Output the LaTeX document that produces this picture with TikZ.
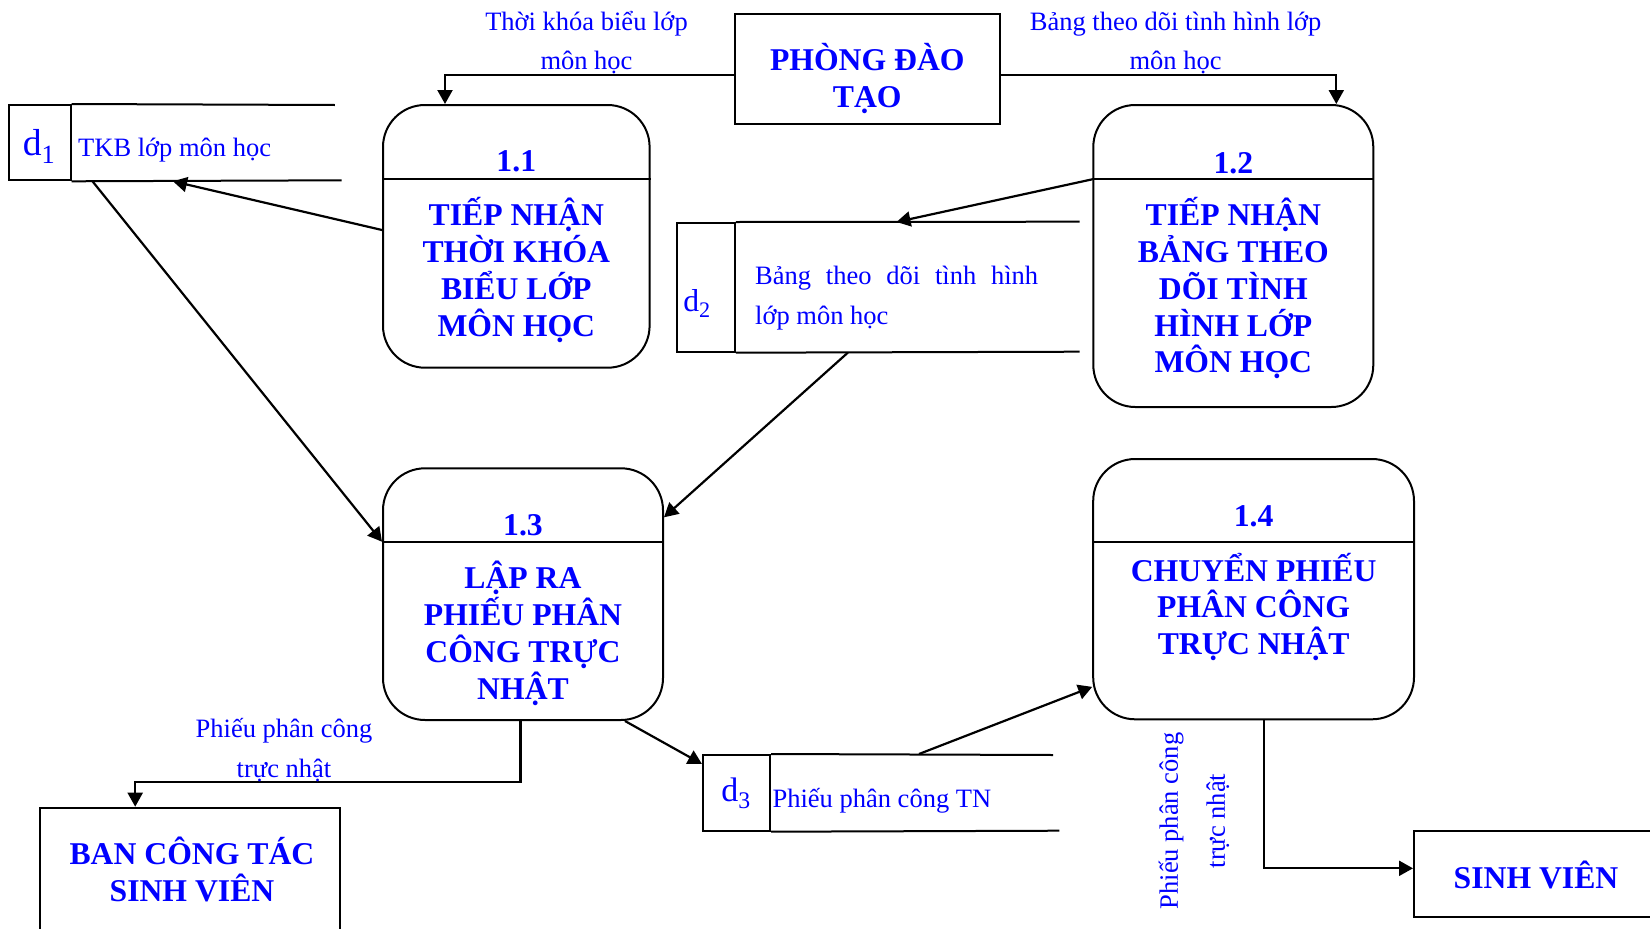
\documentclass[tikz,border=0pt]{standalone}
\usepackage{fontspec}
\setmainfont{Liberation Serif}
\usetikzlibrary{arrows.meta,calc}
\definecolor{ink}{RGB}{0,0,255}

\begin{document}
\begin{tikzpicture}[x=1pt,y=-1pt,
  procbox/.style={draw, line width=2pt, rounded corners=42pt, inner sep=0pt},
  extbox/.style={draw, line width=2pt, inner sep=0pt},
  storecell/.style={draw, line width=2pt, inner sep=0pt},
  storeline/.style={line width=2pt},
  flow/.style={line width=2.2pt, -{Triangle[length=14pt,width=15pt]}},
  title/.style={text=ink, inner sep=0pt, align=center,
    font=\bfseries\fontsize{31.7}{36.7}\selectfont},
  lbl/.style={text=ink, inner sep=0pt, font=\fontsize{26.5}{39}\selectfont},
]
\useasboundingbox (0,0) rectangle (1650,929);
\clip (0,0) rectangle (1650,929);

% external entities
\node[extbox, minimum width=265.5pt, minimum height=109.5pt] (pdt) at (867.25,68.75) {};
\node[title] (pdtname) at (867.3,78.3) {PHÒNG ĐÀO\\TẠO};
\node[extbox, minimum width=299.8pt, minimum height=137.3pt] (ban) at (190.1,876.35) {};
\node[title] (banname) at (192,869.7) {BAN CÔNG TÁC\\SINH VIÊN};
\node[extbox, minimum width=251pt, minimum height=86.6pt] (sv) at (1539.5,874) {};
\node[title] (svname) at (1536,874.7) {SINH VIÊN};

% processes
\node[procbox, minimum width=266.6pt, minimum height=262.7pt] (p11) at (516.3,236.35) {};
\draw[storeline] ([yshift=-75.3pt]p11.north west) -- ([yshift=-75.3pt]p11.north east);
\node[title] (p11num) at (516.3,161) {1.1};
\node[title] (p11txt) at (516.3,270) {TIẾP NHẬN\\THỜI KHÓA\\BIỂU LỚP\\MÔN HỌC};

\node[procbox, minimum width=280pt, minimum height=302pt] (p12) at (1233.3,256) {};
\draw[storeline] ([yshift=-75.3pt]p12.north west) -- ([yshift=-75.3pt]p12.north east);
\node[title] (p12num) at (1233.3,163.3) {1.2};
\node[title] (p12txt) at (1233.3,288.3) {TIẾP NHẬN\\BẢNG THEO\\DÕI TÌNH\\HÌNH LỚP\\MÔN HỌC};

\node[procbox, minimum width=280pt, minimum height=251.7pt] (p13) at (523,594.15) {};
\draw[storeline] ([yshift=-74.4pt]p13.north west) -- ([yshift=-74.4pt]p13.north east);
\node[title] (p13num) at (523,525) {1.3};
\node[title] (p13txt) at (523,633.3) {LẬP RA\\PHIẾU PHÂN\\CÔNG TRỰC\\NHẬT};

\node[procbox, minimum width=320.8pt, minimum height=260.3pt] (p14) at (1253.6,589.15) {};
\draw[storeline] ([yshift=-83.7pt]p14.north west) -- ([yshift=-83.7pt]p14.north east);
\node[title] (p14num) at (1253.6,516.7) {1.4};
\node[title] (p14txt) at (1253.6,606.7) {CHUYỂN PHIẾU\\PHÂN CÔNG\\TRỰC NHẬT};

% data stores
\node[storecell, minimum width=61.6pt, minimum height=75.3pt] (d1) at (39.7,142.65) {};
\coordinate (d1t) at (334.8,105);
\coordinate (d1b) at (341.5,180.3);
\draw[storeline] (d1.north east) -- (d1t);
\draw[storeline] (d1.south east) -- (d1b);
\node[text=ink, inner sep=0pt, anchor=base, font=\fontsize{37.6}{40}\selectfont] (d1id) at (39,155) {d\textsubscript{1}};
\node[lbl, anchor=base west] (d1txt) at (78,156) {TKB lớp môn học};

\node[storecell, minimum width=58pt, minimum height=128.7pt] (d2) at (705.8,287.35) {};
\coordinate (d2t) at (1079.5,221.7);
\coordinate (d2b) at (1079.5,351.7);
\draw[storeline] (d2.north east) -- (d2t);
\draw[storeline] (d2.south east) -- (d2b);
\node[text=ink, inner sep=0pt, anchor=base, font=\fontsize{31.7}{34}\selectfont] (d2id) at (697,311.7) {d\textsubscript{2}};
\node[lbl, anchor=west, align=left, font=\fontsize{26.5}{40}\selectfont] (d2txt) at (755,298)
  {\makebox[283pt][s]{Bảng theo dõi tình hình}\\lớp môn học};

\node[storecell, minimum width=67pt, minimum height=75.7pt] (d3) at (736.5,792.85) {};
\coordinate (d3t) at (1053,755);
\coordinate (d3b) at (1059.4,830.7);
\draw[storeline] (d3.north east) -- (d3t);
\draw[storeline] (d3.south east) -- (d3b);
\node[text=ink, inner sep=0pt, anchor=base, font=\fontsize{34}{36}\selectfont] (d3id) at (736,801.7) {d\textsubscript{3}};
\node[lbl, anchor=base west] (d3txt) at (772.4,807.5) {Phiếu phân công TN};

% data flows
\draw[flow] ([yshift=-6.25pt]pdt.west) -| ([xshift=63pt]p11.north west);
\node[lbl, align=center] (f1) at (586.5,42.5) {Thời khóa biểu lớp\\môn học};
\draw[flow] ([yshift=-6.25pt]pdt.east) -| ([xshift=-38pt]p12.north east);
\node[lbl, align=center] (f2) at (1175.6,42.5) {Bảng theo dõi tình hình lớp\\môn học};
\draw[flow] ([yshift=-75.3pt]p12.north west) -- ([xshift=160.7pt]d2.north east);
\draw[flow] ([yshift=6.35pt]p11.west) -- ([xshift=101.5pt]d1.south east);
\draw[flow] ([xshift=21pt]d1.south east) -- ([yshift=-74.4pt]p13.north west);
\draw[flow] ([xshift=112pt]d2.south east) -- ([yshift=-50pt]p13.north east);
\draw[flow] ([xshift=102pt]p13.south) -- ([yshift=-10pt]d3.north west);
\draw[flow] ([xshift=148pt]d3.north east) -- ([yshift=-97.7pt]p14.west);
\draw[flow] ([xshift=-2.5pt]p13.south) -- ++(0,60.7) -| ([xshift=96pt]ban.north west);
\node[lbl, align=center, font=\fontsize{26.5}{40}\selectfont] (f3) at (284,750) {Phiếu phân công\\trực nhật};
\draw[flow] ([xshift=10pt]p14.south) |- ([yshift=5.7pt]sv.west);
\node[lbl, align=center, rotate=90, font=\fontsize{26.5}{47}\selectfont] (f4) at (1194,821) {Phiếu phân công\\trực nhật};
\end{tikzpicture}
\end{document}
